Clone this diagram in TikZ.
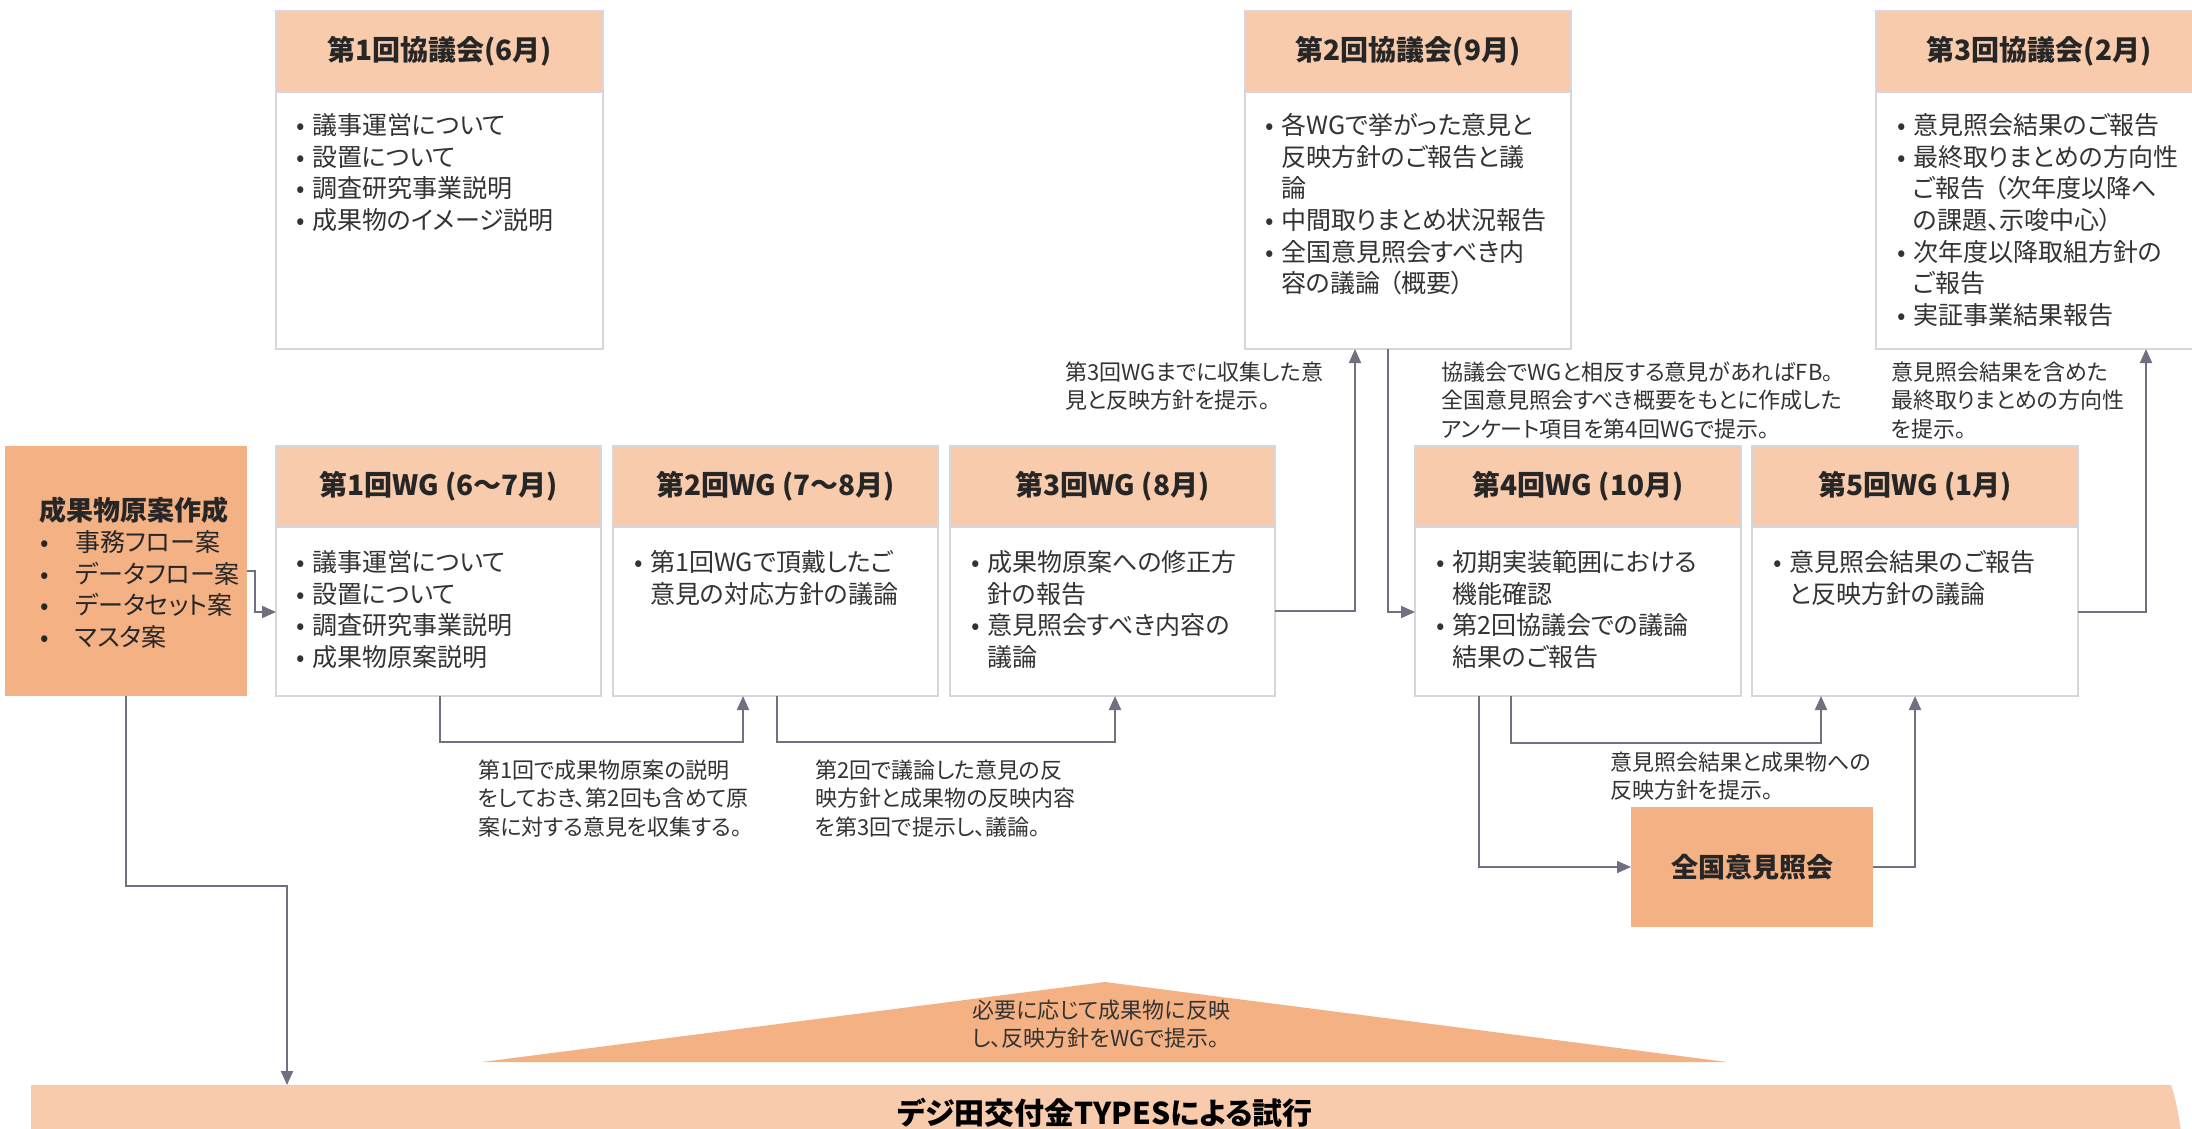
\documentclass[tikz,border=0pt]{standalone}
\usepackage{fontspec}
\setmainfont{Noto Sans CJK JP}[RawFeature=+palt]
\usetikzlibrary{arrows.meta}
\definecolor{headfill}{HTML}{F8CBAD}
\definecolor{darkfill}{HTML}{F4B183}
\definecolor{bordercol}{HTML}{D6D6DC}
\definecolor{linecol}{HTML}{707080}
\definecolor{txt}{HTML}{333333}
\definecolor{headtxt}{HTML}{262626}
\newcommand\bu{\makebox[16pt][l]{•}}
\newcommand\sk{\hspace*{16pt}}
\newcommand\ml[1]{\begin{tabular}[t]{@{}l@{}}#1\end{tabular}}
\begin{document}
\begin{tikzpicture}[x=1pt,y=-1pt,
  box/.style={draw=bordercol, line width=2.5pt, fill=white, anchor=north west, inner sep=0pt, outer sep=0pt},
  head/.style={draw=bordercol, line width=2.5pt, fill=headfill, anchor=north west, inner sep=0pt, outer sep=0pt,
     minimum height=81pt, text=headtxt, font=\fontsize{28}{32}\selectfont\bfseries},
  body/.style={inner sep=0pt, anchor=base west, text=txt, font=\fontsize{25}{31.7}\selectfont},
  note/.style={inner sep=0pt, anchor=base west, text=txt, font=\fontsize{22}{28.5}\selectfont},
  arr/.style={draw=linecol, line width=2pt, -{Triangle[length=14pt,width=12pt]}},
  darkbox/.style={fill=darkfill, anchor=north west, inner sep=0pt, outer sep=0pt, text=headtxt,
     font=\fontsize{27}{32}\selectfont\bfseries}]
\useasboundingbox (0,0) rectangle (2192,1129);

% ---- councils
\node[box, minimum width=327pt, minimum height=338pt] (c1) at (276,11) {};
\node[head, minimum width=327pt] (c1h) at (276,11) {第1回協議会(6月)\hspace{20pt}};
\node[body] (c1b) at (296,134.5) {\ml{\bu 議事運営について\\ \bu 設置について\\ \bu 調査研究事業説明\\ \bu 成果物のイメージ説明}};

\node[box, minimum width=326pt, minimum height=338pt] (c2) at (1245,11) {};
\node[head, minimum width=326pt] (c2h) at (1245,11) {第2回協議会(9月)\hspace{20pt}};
\node[body] (c2b) at (1265,134.5) {\ml{\bu 各WGで挙がった意見と\\ \sk 反映方針のご報告と議\\ \sk 論\\ \bu 中間取りまとめ状況報告\\ \bu 全国意見照会すべき内\\ \sk 容の議論\hspace{0.35em}（概要）}};

\node[box, minimum width=326pt, minimum height=338pt] (c3) at (1876,11) {};
\node[head, minimum width=326pt] (c3h) at (1876,11) {第3回協議会(2月)\hspace{20pt}};
\node[body] (c3b) at (1897,134.5) {\ml{\bu 意見照会結果のご報告\\ \bu 最終取りまとめの方向性\\ \sk ご報告\hspace{0.35em}（次年度以降へ\\ \sk の課題、示唆中心）\\ \bu 次年度以降取組方針の\\ \sk ご報告\\ \bu 実証事業結果報告}};

% ---- source box
\node[darkbox, minimum width=242pt, minimum height=250pt] (src) at (5,446) {};
\node[inner sep=0pt, anchor=base, text=headtxt, font=\fontsize{27}{32}\selectfont\bfseries] (srct) at (134,520) {成果物原案作成};
\node[inner sep=0pt, anchor=base west, text=headtxt, font=\fontsize{25}{31.7}\selectfont] (srcb) at (40,551.5)
  {\ml{\makebox[35pt][l]{•}事務フロー案\\ \makebox[35pt][l]{•}データフロー案\\ \makebox[35pt][l]{•}データセット案\\ \makebox[35pt][l]{•}マスタ案}};

% ---- working groups
\node[box, minimum width=325pt, minimum height=250pt] (wg1) at (276,446) {};
\node[head, minimum width=325pt] (wg1h) at (276,446) {第1回WG (6～7月)\hspace{20pt}};
\node[body] (wg1b) at (296,571.5) {\ml{\bu 議事運営について\\ \bu 設置について\\ \bu 調査研究事業説明\\ \bu 成果物原案説明}};

\node[box, minimum width=325pt, minimum height=250pt] (wg2) at (613,446) {};
\node[head, minimum width=325pt] (wg2h) at (613,446) {第2回WG (7～8月)\hspace{20pt}};
\node[body] (wg2b) at (634,571.5) {\ml{\bu 第1回WGで頂戴したご\\ \sk 意見の対応方針の議論}};

\node[box, minimum width=325pt, minimum height=250pt] (wg3) at (950,446) {};
\node[head, minimum width=325pt] (wg3h) at (950,446) {第3回WG (8月)\hspace{20pt}};
\node[body] (wg3b) at (971,571.5) {\ml{\bu 成果物原案への修正方\\ \sk 針の報告\\ \bu 意見照会すべき内容の\\ \sk 議論}};

\node[box, minimum width=326pt, minimum height=250pt] (wg4) at (1415,446) {};
\node[head, minimum width=326pt] (wg4h) at (1415,446) {第4回WG (10月)\hspace{20pt}};
\node[body] (wg4b) at (1436,571.5) {\ml{\bu 初期実装範囲における\\ \sk 機能確認\\ \bu 第2回協議会での議論\\ \sk 結果のご報告}};

\node[box, minimum width=326pt, minimum height=250pt] (wg5) at (1752,446) {};
\node[head, minimum width=326pt] (wg5h) at (1752,446) {第5回WG (1月)\hspace{20pt}};
\node[body] (wg5b) at (1773,571.5) {\ml{\bu 意見照会結果のご報告\\ \sk と反映方針の議論}};

% ---- national consultation
\node[darkbox, minimum width=242pt, minimum height=120pt] (zk) at (1631,807) {全国意見照会\hspace{14pt}};

% ---- triangle and bar
\fill[darkfill] (482,1062) -- (1105,982) -- (1727,1062) -- cycle;
\node[note] (tri) at (972,1018.4) {\ml{必要に応じて成果物に反映\\し、反映方針をWGで提示。}};
\fill[headfill] (31,1085) -- (2171,1085) .. controls (2176,1100) and (2179,1115) .. (2182,1140) -- (31,1140) -- cycle;
\coordinate (bartop) at (287,1085);
\node[inner sep=0pt, anchor=base, text=black, font=\fontsize{30}{34}\selectfont\bfseries] (bart) at (1105,1124) {デジ田交付金TYPESによる試行};

% ---- notes
\node[note] (a1) at (478,778.4) {\ml{第1回で成果物原案の説明\\をしておき、第2回も含めて原\\案に対する意見を収集する。}};
\node[note] (a2) at (815,778.4) {\ml{第2回で議論した意見の反\\映方針と成果物の反映内容\\を第3回で提示し、議論。}};
\node[note] (a3) at (1065,380.4) {\ml{第3回WGまでに収集した意\\見と反映方針を提示。}};
\node[note] (a4) at (1441,380.4) {\ml{協議会でWGと相反する意見があればFB。\\全国意見照会すべき概要をもとに作成した\\アンケート項目を第4回WGで提示。}};
\node[note] (a5) at (1891,380.4) {\ml{意見照会結果を含めた\\最終取りまとめの方向性\\を提示。}};
\node[note] (a6) at (1610,770.4) {\ml{意見照会結果と成果物への\\反映方針を提示。}};

% ---- connectors
\draw[arr] (src.east) -- ++(8,0) |- ([yshift=-41pt]wg1.west);
\coordinate (bend1) at (287,886);
\draw[arr] (src.south) |- (bend1) -- (bartop);
\draw[arr] ([xshift=164pt]wg1.south west) -- ++(0,46) -| ([xshift=130pt]wg2.south west);
\draw[arr] ([xshift=164pt]wg2.south west) -- ++(0,46) -| ([xshift=165pt]wg3.south west);
\draw[arr] ([yshift=-40pt]wg3.east) -| ([xshift=110pt]c2.south west);
\draw[arr] ([xshift=143pt]c2.south west) |- ([yshift=-41pt]wg4.west);
\draw[arr] ([xshift=64pt]wg4.south west) |- (zk.west);
\draw[arr] ([xshift=96pt]wg4.south west) -- ++(0,47) -| ([xshift=69pt]wg5.south west);
\draw[arr] (zk.east) -| ([xshift=163pt]wg5.south west);
\draw[arr] ([yshift=-41pt]wg5.east) -| ([xshift=270pt]c3.south west);
\end{tikzpicture}
\end{document}
